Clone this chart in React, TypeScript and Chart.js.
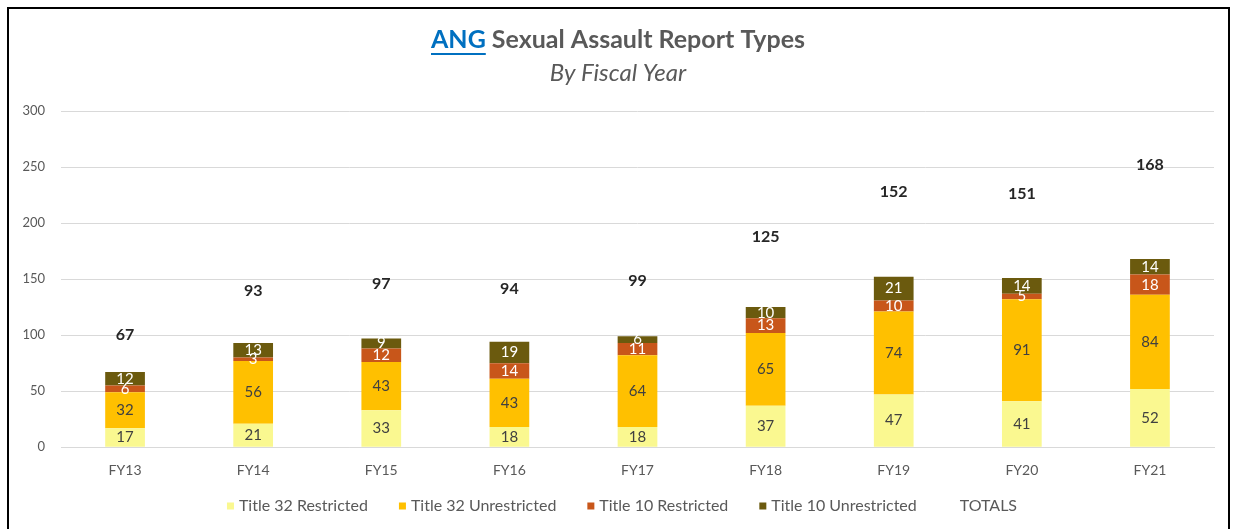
import React, { useEffect, useRef } from "react";
import { Chart, registerables } from "chart.js";

Chart.register(...registerables);

const categories = ["FY13", "FY14", "FY15", "FY16", "FY17", "FY18", "FY19", "FY20", "FY21"];
const t32Restricted = [17, 21, 33, 18, 18, 37, 47, 41, 52];
const t32Unrestricted = [32, 56, 43, 43, 64, 65, 74, 91, 84];
const t10Restricted = [6, 3, 12, 14, 11, 13, 10, 5, 18];
const t10Unrestricted = [12, 13, 9, 19, 6, 10, 21, 14, 14];
const totals = [67, 93, 97, 94, 99, 125, 152, 151, 168];
const yTicks = [0, 50, 100, 150, 200, 250, 300];

const FONT = "Lato, 'Open Sans', sans-serif";

const labelColors = ["#404040", "#404040", "#ffffff", "#ffffff", "#262626"];

const labelPlugin = {
  id: "barLabels",
  afterDatasetsDraw(chart: any) {
    const ctx = chart.ctx;
    ctx.save();
    ctx.textAlign = "center";
    ctx.textBaseline = "middle";
    chart.data.datasets.forEach((ds: any, di: number) => {
      const meta = chart.getDatasetMeta(di);
      meta.data.forEach((el: any, i: number) => {
        const v = ds.data[i];
        const y = (el.y + el.base) / 2;
        ctx.fillStyle = labelColors[di];
        ctx.font = di === 4 ? `bold 16px ${FONT}` : `15px ${FONT}`;
        ctx.fillText(String(v), el.x, y);
      });
    });
    ctx.restore();
  },
};

const legendPlugin = {
  id: "customLegend",
  afterDraw(chart: any) {
    const ctx = chart.ctx;
    ctx.save();
    ctx.font = `16px ${FONT}`;
    ctx.textBaseline = "middle";
    ctx.textAlign = "left";
    const box = 7;
    const gapBox = 5;
    const gapItem = 31;
    const items = chart.data.datasets.map((ds: any) => ({
      label: ds.label,
      color: ds.backgroundColor,
      w: ctx.measureText(ds.label).width,
    }));
    const total =
      items.reduce((s: number, it: any) => s + box + gapBox + it.w, 0) + gapItem * (items.length - 1);
    let x = 622 - total / 2;
    const y = 506;
    items.forEach((it: any) => {
      ctx.fillStyle = it.color;
      ctx.fillRect(x, y - box / 2, box, box);
      ctx.fillStyle = "#595959";
      ctx.fillText(it.label, x + box + gapBox, y);
      x += box + gapBox + it.w + gapItem;
    });
    ctx.restore();
  },
};

const titlePlugin = {
  id: "customTitle",
  afterDraw(chart: any) {
    const ctx = chart.ctx;
    ctx.save();
    ctx.textBaseline = "middle";
    ctx.font = `bold 25px ${FONT}`;
    const a = "ANG";
    const b = " Sexual Assault Report Types";
    const wa = ctx.measureText(a).width;
    const wb = ctx.measureText(b).width;
    const cx = 618;
    const x0 = cx - (wa + wb) / 2;
    const y = 40;
    ctx.textAlign = "left";
    ctx.fillStyle = "#0070C0";
    ctx.fillText(a, x0, y);
    ctx.fillRect(x0, y + 13, wa, 2);
    ctx.fillStyle = "#595959";
    ctx.fillText(b, x0 + wa, y);
    ctx.font = `italic 24px ${FONT}`;
    ctx.textAlign = "center";
    ctx.fillText("By Fiscal Year", cx, 73);
    ctx.restore();
  },
};

export default function App() {
  const ref = useRef<HTMLCanvasElement | null>(null);
  useEffect(() => {
    document.body.style.margin = "0";
    const chart = new Chart(ref.current as HTMLCanvasElement, {
      type: "bar",
      data: {
        labels: categories,
        datasets: [
          { label: "Title 32 Restricted", data: t32Restricted, backgroundColor: "#FAF890" },
          { label: "Title 32 Unrestricted", data: t32Unrestricted, backgroundColor: "#FFC000" },
          { label: "Title 10 Restricted", data: t10Restricted, backgroundColor: "#C8561A" },
          { label: "Title 10 Unrestricted", data: t10Unrestricted, backgroundColor: "#6B5A0E" },
          { label: "TOTALS", data: totals, backgroundColor: "rgba(0,0,0,0)" },
        ],
      },
      options: {
        animation: false,
        responsive: false,
        layout: { padding: { top: 111, left: 9, right: 19, bottom: 43 } },
        datasets: { bar: { barPercentage: 0.31, categoryPercentage: 1 } },
        scales: {
          x: {
            stacked: true,
            grid: { display: false },
            border: { color: "#d9d9d9" },
            ticks: { color: "#595959", font: { family: FONT, size: 14 }, padding: 7 },
          },
          y: {
            stacked: true,
            min: 0,
            max: 300,
            afterBuildTicks: (s: any) => {
              s.ticks = yTicks.map((v) => ({ value: v }));
            },
            afterFit: (s: any) => {
              s.width = 52;
            },
            grid: { color: "#d9d9d9", drawTicks: false },
            border: { display: false },
            ticks: { color: "#595959", font: { family: FONT, size: 13 }, padding: 16 },
          },
        },
        plugins: {
          legend: { display: false },
          tooltip: { enabled: false },
          title: { display: false },
        },
      },
      plugins: [labelPlugin, legendPlugin, titlePlugin],
    });
    return () => chart.destroy();
  }, []);
  return (
    <div style={{ position: "fixed", left: 0, top: 0, width: 1233, height: 529, overflow: "hidden", background: "#fff" }}>
      <canvas ref={ref} width={1233} height={529} style={{ position: "absolute", left: 0, top: 0 }} />
      <div
        style={{
          position: "absolute",
          left: 7,
          top: 7,
          width: 1219,
          height: 560,
          border: "2px solid #000",
          pointerEvents: "none",
        }}
      />
    </div>
  );
}
